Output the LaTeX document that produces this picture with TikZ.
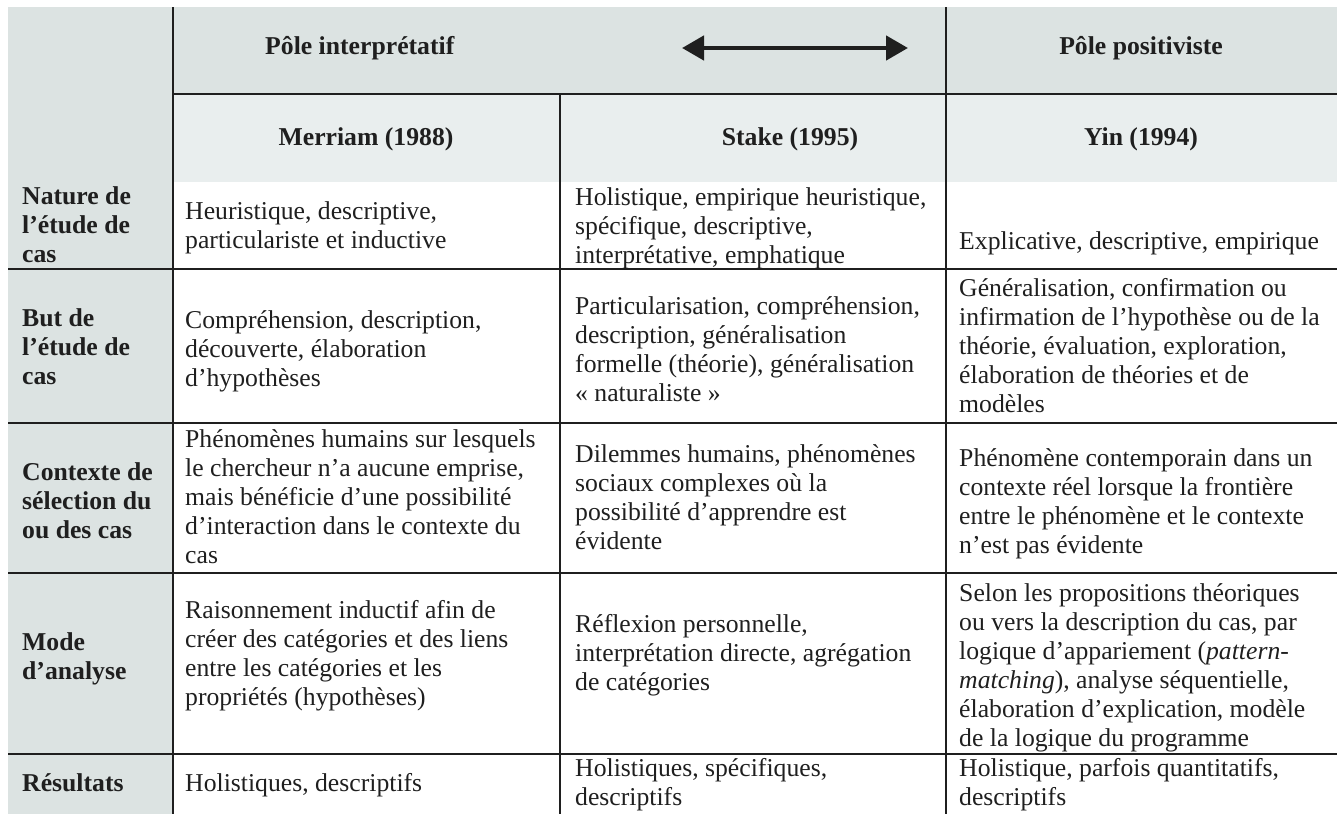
\documentclass[tikz,border=0pt]{standalone}
\usepackage{fontspec}
\setmainfont{Liberation Serif}
\usetikzlibrary{arrows.meta}
\definecolor{hdrgrey}{HTML}{DCE3E2}
\definecolor{subgrey}{HTML}{E9EEEE}
\definecolor{ink}{HTML}{1F1F1F}
\newcommand\tcell[1]{\begin{tabular}[t]{@{}l@{}}#1\end{tabular}}
\begin{document}
\begin{tikzpicture}[x=1pt,y=-1pt,
  txt/.style={inner sep=0pt, anchor=base west, text=ink, font=\fontsize{25.7}{29}\selectfont},
  lbl/.style={txt, font=\fontsize{25.7}{29}\selectfont\bfseries},
  hd/.style={inner sep=0pt, anchor=base, text=ink, font=\fontsize{25.7}{29}\selectfont\bfseries},
  rule/.style={draw=ink, line width=2.4pt},
  twoway/.style={draw=ink, line width=4.6pt, {Triangle[length=22pt,width=24pt]}-{Triangle[length=22pt,width=24pt]}}]
\useasboundingbox (0,0) rectangle (1340,814);
% fills
\fill[hdrgrey] (8,7) rectangle (1337,94);
\fill[hdrgrey] (8,7) rectangle (173,814);
\fill[subgrey] (173,94) rectangle (1337,182);
% rules
\draw[rule] (173,7) -- (173,814);
\draw[rule] (946,7) -- (946,814);
\draw[rule] (560,94) -- (560,814);
\draw[rule] (173,94) -- (1337,94);
\foreach \yy in {269,423,573,754} \draw[rule] (8,\yy) -- (1337,\yy);
% header
\node[hd, anchor=base west] (pint) at (265,54) {Pôle interprétatif};
\node[hd] (ppos) at (1141,54) {Pôle positiviste};
\coordinate (al) at (682,48);
\coordinate (ar) at (908,48);
\draw[twoway] (al) -- (ar);
\node[hd] (hm) at (366,145) {Merriam (1988)};
\node[hd] (hs) at (790,145) {Stake (1995)};
\node[hd] (hy) at (1141,145) {Yin (1994)};
% left column
\node[lbl] (l1) at (22,204) {\tcell{Nature de\\l’étude de\\cas}};
\node[lbl] (l2) at (22,326) {\tcell{But de\\l’étude de\\cas}};
\node[lbl] (l3) at (22,480) {\tcell{Contexte de\\sélection du\\ou des cas}};
\node[lbl] (l4) at (22,650) {\tcell{Mode\\d’analyse}};
\node[lbl] (l5) at (22,791) {\tcell{Résultats}};
% Merriam
\node[txt] (m1) at (185,219) {\tcell{Heuristique, descriptive,\\particulariste et inductive}};
\node[txt] (m2) at (185,328) {\tcell{Compréhension, description,\\découverte, élaboration\\d’hypothèses}};
\node[txt] (m3) at (185,447) {\tcell{Phénomènes humains sur lesquels\\le chercheur n’a aucune emprise,\\mais bénéficie d’une possibilité\\d’interaction dans le contexte du\\cas}};
\node[txt] (m4) at (185,618) {\tcell{Raisonnement inductif afin de\\créer des catégories et des liens\\entre les catégories et les\\propriétés (hypothèses)}};
\node[txt] (m5) at (185,791) {\tcell{Holistiques, descriptifs}};
% Stake
\node[txt] (s1) at (575,205) {\tcell{Holistique, empirique heuristique,\\spécifique, descriptive,\\interprétative, emphatique}};
\node[txt] (s2) at (575,314) {\tcell{Particularisation, compréhension,\\description, généralisation\\formelle (théorie), généralisation\\« naturaliste »}};
\node[txt] (s3) at (575,462) {\tcell{Dilemmes humains, phénomènes\\sociaux complexes où la\\possibilité d’apprendre est\\évidente}};
\node[txt] (s4) at (575,632) {\tcell{Réflexion personnelle,\\interprétation directe, agrégation\\de catégories}};
\node[txt] (s5) at (575,776) {\tcell{Holistiques, spécifiques,\\descriptifs}};
% Yin
\node[txt] (y1) at (959,249) {\tcell{Explicative, descriptive, empirique}};
\node[txt] (y2) at (959,296) {\tcell{Généralisation, confirmation ou\\infirmation de l’hypothèse ou de la\\théorie, évaluation, exploration,\\élaboration de théories et de\\modèles}};
\node[txt] (y3) at (959,466) {\tcell{Phénomène contemporain dans un\\contexte réel lorsque la frontière\\entre le phénomène et le contexte\\n’est pas évidente}};
\node[txt] (y4) at (959,601) {\tcell{Selon les propositions théoriques\\ou vers la description du cas, par\\logique d’appariement (\textit{pattern-}\\\textit{matching}), analyse séquentielle,\\élaboration d’explication, modèle\\de la logique du programme}};
\node[txt] (y5) at (959,776) {\tcell{Holistique, parfois quantitatifs,\\descriptifs}};
\end{tikzpicture}
\end{document}
